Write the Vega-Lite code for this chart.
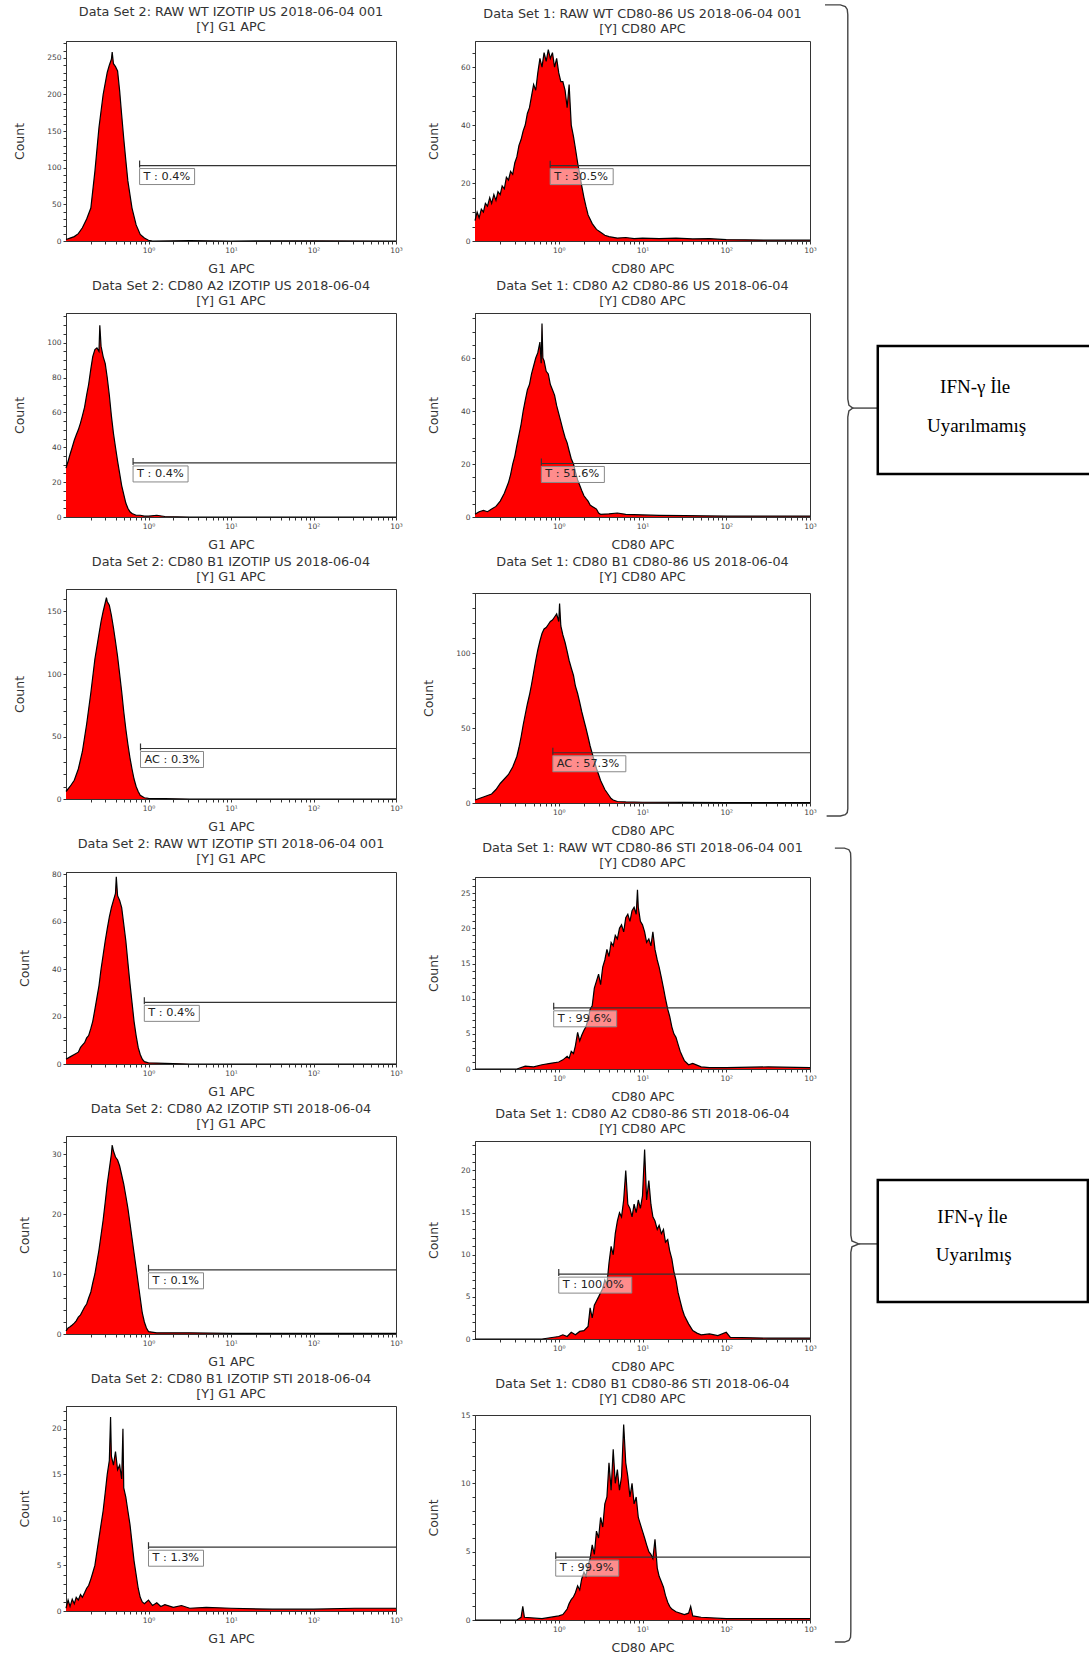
{
"$schema": "https://vega.github.io/schema/vega-lite/v6.json",
"padding": {"left": 13, "top": 2, "right": 0, "bottom": 0},
"background": "white",
"config": {
  "view": {"stroke": "#333", "strokeWidth": 1},
  "title": {"font": "DejaVu Sans", "fontSize": 12.8, "fontWeight": "normal", "color": "#333", "lineHeight": 15, "offset": 5, "anchor": "middle"},
  "axis": {"labelFont": "DejaVu Sans", "labelFontSize": 7.5, "labelColor": "#444", "titleFont": "DejaVu Sans", "titleFontSize": 12.5, "titleFontWeight": "normal", "titleColor": "#333", "tickColor": "#333", "domainColor": "#333", "grid": false, "tickSize": 3, "labelOverlap": false, "labelFlush": false, "labelPadding": 2},
  "axisX": {"titlePadding": 9},
  "axisY": {"titlePadding": 20}
},
"datasets": {
"h": [
{"p":"P1","x":0.1,"y":2},{"p":"P1","x":0.112,"y":4},{"p":"P1","x":0.126,"y":6},{"p":"P1","x":0.141,"y":10},{"p":"P1","x":0.158,"y":18},{"p":"P1","x":0.178,"y":30},{"p":"P1","x":0.2,"y":45},{"p":"P1","x":0.224,"y":95},{"p":"P1","x":0.251,"y":155},{"p":"P1","x":0.282,"y":200},{"p":"P1","x":0.316,"y":230},{"p":"P1","x":0.335,"y":240},{"p":"P1","x":0.355,"y":248},{"p":"P1","x":0.363,"y":258},{"p":"P1","x":0.376,"y":242},{"p":"P1","x":0.398,"y":238},{"p":"P1","x":0.422,"y":232},{"p":"P1","x":0.447,"y":205},{"p":"P1","x":0.473,"y":172},{"p":"P1","x":0.501,"y":140},{"p":"P1","x":0.531,"y":110},{"p":"P1","x":0.562,"y":82},{"p":"P1","x":0.631,"y":45},{"p":"P1","x":0.708,"y":22},{"p":"P1","x":0.794,"y":9},{"p":"P1","x":0.891,"y":4},{"p":"P1","x":1,"y":1},{"p":"P1","x":1.12,"y":0},{"p":"P1","x":3.16,"y":0.5},{"p":"P1","x":10,"y":0},{"p":"P1","x":100,"y":0.3},{"p":"P1","x":1000,"y":0},
{"p":"P2","x":0.1,"y":7},{"p":"P2","x":0.106,"y":10},{"p":"P2","x":0.112,"y":8},{"p":"P2","x":0.119,"y":11},{"p":"P2","x":0.126,"y":10},{"p":"P2","x":0.133,"y":13},{"p":"P2","x":0.141,"y":12},{"p":"P2","x":0.15,"y":15},{"p":"P2","x":0.158,"y":13},{"p":"P2","x":0.168,"y":16},{"p":"P2","x":0.178,"y":14},{"p":"P2","x":0.188,"y":17},{"p":"P2","x":0.2,"y":16},{"p":"P2","x":0.211,"y":19},{"p":"P2","x":0.224,"y":18},{"p":"P2","x":0.237,"y":22},{"p":"P2","x":0.251,"y":21},{"p":"P2","x":0.266,"y":24},{"p":"P2","x":0.282,"y":23},{"p":"P2","x":0.299,"y":27},{"p":"P2","x":0.316,"y":29},{"p":"P2","x":0.335,"y":33},{"p":"P2","x":0.355,"y":35},{"p":"P2","x":0.376,"y":38},{"p":"P2","x":0.398,"y":40},{"p":"P2","x":0.422,"y":44},{"p":"P2","x":0.447,"y":46},{"p":"P2","x":0.473,"y":50},{"p":"P2","x":0.501,"y":54},{"p":"P2","x":0.531,"y":52},{"p":"P2","x":0.562,"y":58},{"p":"P2","x":0.596,"y":63},{"p":"P2","x":0.631,"y":60},{"p":"P2","x":0.668,"y":65},{"p":"P2","x":0.708,"y":62},{"p":"P2","x":0.75,"y":66},{"p":"P2","x":0.794,"y":63},{"p":"P2","x":0.841,"y":65},{"p":"P2","x":0.891,"y":60},{"p":"P2","x":0.944,"y":63},{"p":"P2","x":1,"y":58},{"p":"P2","x":1.059,"y":55},{"p":"P2","x":1.12,"y":55},{"p":"P2","x":1.19,"y":52},{"p":"P2","x":1.26,"y":46},{"p":"P2","x":1.33,"y":54},{"p":"P2","x":1.41,"y":40},{"p":"P2","x":1.5,"y":36},{"p":"P2","x":1.58,"y":32},{"p":"P2","x":1.68,"y":27},{"p":"P2","x":1.78,"y":23},{"p":"P2","x":1.88,"y":19},{"p":"P2","x":2.0,"y":15},{"p":"P2","x":2.11,"y":12},{"p":"P2","x":2.24,"y":9},{"p":"P2","x":2.51,"y":6},{"p":"P2","x":2.82,"y":4},{"p":"P2","x":3.16,"y":3},{"p":"P2","x":3.55,"y":2},{"p":"P2","x":3.98,"y":1.5},{"p":"P2","x":5.01,"y":1},{"p":"P2","x":6.31,"y":1.2},{"p":"P2","x":7.94,"y":0.8},{"p":"P2","x":10,"y":1},{"p":"P2","x":15.8,"y":0.8},{"p":"P2","x":25.1,"y":1},{"p":"P2","x":39.8,"y":0.7},{"p":"P2","x":63.1,"y":0.8},{"p":"P2","x":100,"y":0.5},{"p":"P2","x":316,"y":0.3},{"p":"P2","x":1000,"y":0.3},
{"p":"P3","x":0.1,"y":28},{"p":"P3","x":0.106,"y":32},{"p":"P3","x":0.112,"y":36},{"p":"P3","x":0.119,"y":40},{"p":"P3","x":0.126,"y":44},{"p":"P3","x":0.133,"y":47},{"p":"P3","x":0.141,"y":50},{"p":"P3","x":0.15,"y":54},{"p":"P3","x":0.158,"y":58},{"p":"P3","x":0.168,"y":63},{"p":"P3","x":0.178,"y":70},{"p":"P3","x":0.188,"y":76},{"p":"P3","x":0.2,"y":85},{"p":"P3","x":0.211,"y":92},{"p":"P3","x":0.224,"y":96},{"p":"P3","x":0.237,"y":97},{"p":"P3","x":0.251,"y":95},{"p":"P3","x":0.257,"y":110},{"p":"P3","x":0.266,"y":98},{"p":"P3","x":0.282,"y":92},{"p":"P3","x":0.299,"y":88},{"p":"P3","x":0.316,"y":80},{"p":"P3","x":0.335,"y":70},{"p":"P3","x":0.355,"y":58},{"p":"P3","x":0.376,"y":48},{"p":"P3","x":0.398,"y":40},{"p":"P3","x":0.422,"y":32},{"p":"P3","x":0.447,"y":25},{"p":"P3","x":0.473,"y":18},{"p":"P3","x":0.501,"y":13},{"p":"P3","x":0.531,"y":8},{"p":"P3","x":0.562,"y":5},{"p":"P3","x":0.596,"y":3},{"p":"P3","x":0.631,"y":2},{"p":"P3","x":0.708,"y":1},{"p":"P3","x":0.794,"y":1},{"p":"P3","x":0.891,"y":0.5},{"p":"P3","x":1,"y":0.5},{"p":"P3","x":1.26,"y":1},{"p":"P3","x":1.58,"y":0.3},{"p":"P3","x":3.16,"y":0},{"p":"P3","x":1000,"y":0},
{"p":"P4","x":0.1,"y":1},{"p":"P4","x":0.112,"y":2},{"p":"P4","x":0.126,"y":2.5},{"p":"P4","x":0.141,"y":2},{"p":"P4","x":0.158,"y":3},{"p":"P4","x":0.178,"y":4},{"p":"P4","x":0.2,"y":6},{"p":"P4","x":0.224,"y":9},{"p":"P4","x":0.251,"y":13},{"p":"P4","x":0.266,"y":16},{"p":"P4","x":0.282,"y":20},{"p":"P4","x":0.299,"y":23},{"p":"P4","x":0.316,"y":27},{"p":"P4","x":0.335,"y":31},{"p":"P4","x":0.355,"y":35},{"p":"P4","x":0.376,"y":40},{"p":"P4","x":0.398,"y":44},{"p":"P4","x":0.422,"y":48},{"p":"P4","x":0.447,"y":50},{"p":"P4","x":0.473,"y":54},{"p":"P4","x":0.501,"y":57},{"p":"P4","x":0.531,"y":60},{"p":"P4","x":0.562,"y":62},{"p":"P4","x":0.596,"y":66},{"p":"P4","x":0.617,"y":58},{"p":"P4","x":0.631,"y":73},{"p":"P4","x":0.646,"y":60},{"p":"P4","x":0.668,"y":59},{"p":"P4","x":0.708,"y":55},{"p":"P4","x":0.75,"y":54},{"p":"P4","x":0.794,"y":50},{"p":"P4","x":0.841,"y":48},{"p":"P4","x":0.891,"y":46},{"p":"P4","x":0.944,"y":42},{"p":"P4","x":1,"y":39},{"p":"P4","x":1.059,"y":36},{"p":"P4","x":1.12,"y":33},{"p":"P4","x":1.19,"y":30},{"p":"P4","x":1.26,"y":28},{"p":"P4","x":1.33,"y":25},{"p":"P4","x":1.41,"y":22},{"p":"P4","x":1.5,"y":20},{"p":"P4","x":1.58,"y":17},{"p":"P4","x":1.68,"y":14},{"p":"P4","x":1.78,"y":12},{"p":"P4","x":1.88,"y":10},{"p":"P4","x":2.0,"y":8},{"p":"P4","x":2.11,"y":7},{"p":"P4","x":2.24,"y":6},{"p":"P4","x":2.37,"y":4.5},{"p":"P4","x":2.51,"y":4},{"p":"P4","x":2.66,"y":3.5},{"p":"P4","x":2.82,"y":3},{"p":"P4","x":2.99,"y":1.5},{"p":"P4","x":3.16,"y":1},{"p":"P4","x":3.98,"y":1.2},{"p":"P4","x":5.01,"y":1.5},{"p":"P4","x":6.31,"y":1},{"p":"P4","x":10,"y":0.8},{"p":"P4","x":15.8,"y":0.6},{"p":"P4","x":31.6,"y":0.5},{"p":"P4","x":100,"y":0.3},{"p":"P4","x":1000,"y":0.3},
{"p":"P5","x":0.1,"y":6},{"p":"P5","x":0.112,"y":10},{"p":"P5","x":0.126,"y":15},{"p":"P5","x":0.141,"y":24},{"p":"P5","x":0.158,"y":38},{"p":"P5","x":0.178,"y":60},{"p":"P5","x":0.2,"y":85},{"p":"P5","x":0.224,"y":112},{"p":"P5","x":0.251,"y":132},{"p":"P5","x":0.266,"y":142},{"p":"P5","x":0.282,"y":150},{"p":"P5","x":0.299,"y":157},{"p":"P5","x":0.309,"y":161},{"p":"P5","x":0.316,"y":158},{"p":"P5","x":0.335,"y":155},{"p":"P5","x":0.355,"y":147},{"p":"P5","x":0.376,"y":137},{"p":"P5","x":0.398,"y":126},{"p":"P5","x":0.422,"y":114},{"p":"P5","x":0.447,"y":100},{"p":"P5","x":0.473,"y":86},{"p":"P5","x":0.501,"y":70},{"p":"P5","x":0.531,"y":56},{"p":"P5","x":0.562,"y":44},{"p":"P5","x":0.596,"y":33},{"p":"P5","x":0.631,"y":24},{"p":"P5","x":0.668,"y":16},{"p":"P5","x":0.708,"y":10},{"p":"P5","x":0.75,"y":6},{"p":"P5","x":0.794,"y":3},{"p":"P5","x":0.891,"y":1},{"p":"P5","x":1,"y":0.5},{"p":"P5","x":1.58,"y":0.3},{"p":"P5","x":3.16,"y":0},{"p":"P5","x":1000,"y":0},
{"p":"P6","x":0.1,"y":2},{"p":"P6","x":0.112,"y":3},{"p":"P6","x":0.126,"y":4},{"p":"P6","x":0.141,"y":5},{"p":"P6","x":0.158,"y":6},{"p":"P6","x":0.178,"y":9},{"p":"P6","x":0.2,"y":13},{"p":"P6","x":0.224,"y":16},{"p":"P6","x":0.251,"y":19},{"p":"P6","x":0.282,"y":24},{"p":"P6","x":0.316,"y":31},{"p":"P6","x":0.335,"y":37},{"p":"P6","x":0.355,"y":44},{"p":"P6","x":0.376,"y":52},{"p":"P6","x":0.398,"y":59},{"p":"P6","x":0.422,"y":66},{"p":"P6","x":0.447,"y":72},{"p":"P6","x":0.473,"y":79},{"p":"P6","x":0.501,"y":87},{"p":"P6","x":0.531,"y":95},{"p":"P6","x":0.562,"y":102},{"p":"P6","x":0.596,"y":108},{"p":"P6","x":0.631,"y":113},{"p":"P6","x":0.668,"y":116},{"p":"P6","x":0.708,"y":117},{"p":"P6","x":0.75,"y":119},{"p":"P6","x":0.794,"y":121},{"p":"P6","x":0.841,"y":122},{"p":"P6","x":0.891,"y":124},{"p":"P6","x":0.944,"y":126},{"p":"P6","x":1,"y":121},{"p":"P6","x":1.023,"y":133},{"p":"P6","x":1.059,"y":118},{"p":"P6","x":1.12,"y":112},{"p":"P6","x":1.19,"y":107},{"p":"P6","x":1.26,"y":101},{"p":"P6","x":1.33,"y":95},{"p":"P6","x":1.41,"y":90},{"p":"P6","x":1.5,"y":85},{"p":"P6","x":1.58,"y":78},{"p":"P6","x":1.68,"y":73},{"p":"P6","x":1.78,"y":67},{"p":"P6","x":1.88,"y":61},{"p":"P6","x":2.0,"y":55},{"p":"P6","x":2.11,"y":50},{"p":"P6","x":2.24,"y":44},{"p":"P6","x":2.37,"y":38},{"p":"P6","x":2.51,"y":33},{"p":"P6","x":2.66,"y":28},{"p":"P6","x":2.82,"y":23},{"p":"P6","x":2.99,"y":19},{"p":"P6","x":3.16,"y":15},{"p":"P6","x":3.35,"y":12},{"p":"P6","x":3.55,"y":9},{"p":"P6","x":3.76,"y":7},{"p":"P6","x":3.98,"y":5},{"p":"P6","x":4.22,"y":3},{"p":"P6","x":4.47,"y":2},{"p":"P6","x":5.01,"y":1},{"p":"P6","x":6.31,"y":0.7},{"p":"P6","x":10,"y":0.5},{"p":"P6","x":31.6,"y":0.4},{"p":"P6","x":100,"y":0.3},{"p":"P6","x":1000,"y":0.3},
{"p":"P7","x":0.1,"y":2},{"p":"P7","x":0.112,"y":3},{"p":"P7","x":0.126,"y":4},{"p":"P7","x":0.141,"y":5},{"p":"P7","x":0.15,"y":7},{"p":"P7","x":0.158,"y":8},{"p":"P7","x":0.168,"y":9},{"p":"P7","x":0.178,"y":11},{"p":"P7","x":0.188,"y":12},{"p":"P7","x":0.2,"y":15},{"p":"P7","x":0.211,"y":18},{"p":"P7","x":0.224,"y":23},{"p":"P7","x":0.237,"y":28},{"p":"P7","x":0.251,"y":33},{"p":"P7","x":0.266,"y":40},{"p":"P7","x":0.282,"y":46},{"p":"P7","x":0.299,"y":52},{"p":"P7","x":0.316,"y":57},{"p":"P7","x":0.335,"y":62},{"p":"P7","x":0.355,"y":66},{"p":"P7","x":0.376,"y":69},{"p":"P7","x":0.398,"y":72},{"p":"P7","x":0.407,"y":79},{"p":"P7","x":0.422,"y":71},{"p":"P7","x":0.447,"y":69},{"p":"P7","x":0.473,"y":66},{"p":"P7","x":0.501,"y":59},{"p":"P7","x":0.531,"y":52},{"p":"P7","x":0.562,"y":43},{"p":"P7","x":0.596,"y":34},{"p":"P7","x":0.631,"y":26},{"p":"P7","x":0.668,"y":18},{"p":"P7","x":0.708,"y":12},{"p":"P7","x":0.75,"y":7},{"p":"P7","x":0.794,"y":4},{"p":"P7","x":0.841,"y":2},{"p":"P7","x":0.891,"y":1},{"p":"P7","x":1,"y":0.5},{"p":"P7","x":1.58,"y":0.3},{"p":"P7","x":3.16,"y":0},{"p":"P7","x":1000,"y":0},
{"p":"P8","x":0.1,"y":0},{"p":"P8","x":0.316,"y":0},{"p":"P8","x":0.398,"y":0.4},{"p":"P8","x":0.501,"y":0.3},{"p":"P8","x":0.631,"y":0.6},{"p":"P8","x":0.794,"y":0.8},{"p":"P8","x":1,"y":1},{"p":"P8","x":1.12,"y":1.3},{"p":"P8","x":1.26,"y":1.8},{"p":"P8","x":1.33,"y":1.5},{"p":"P8","x":1.41,"y":2.5},{"p":"P8","x":1.5,"y":2.2},{"p":"P8","x":1.58,"y":3.3},{"p":"P8","x":1.68,"y":5.2},{"p":"P8","x":1.78,"y":4},{"p":"P8","x":1.88,"y":4.8},{"p":"P8","x":2.0,"y":5.5},{"p":"P8","x":2.11,"y":6},{"p":"P8","x":2.24,"y":7},{"p":"P8","x":2.37,"y":8.5},{"p":"P8","x":2.51,"y":9},{"p":"P8","x":2.66,"y":11.5},{"p":"P8","x":2.82,"y":12.5},{"p":"P8","x":2.99,"y":13.5},{"p":"P8","x":3.16,"y":12},{"p":"P8","x":3.35,"y":14.5},{"p":"P8","x":3.55,"y":15.5},{"p":"P8","x":3.76,"y":17},{"p":"P8","x":3.98,"y":16},{"p":"P8","x":4.22,"y":18},{"p":"P8","x":4.47,"y":17.5},{"p":"P8","x":4.73,"y":19},{"p":"P8","x":5.01,"y":18.5},{"p":"P8","x":5.31,"y":20},{"p":"P8","x":5.62,"y":20.5},{"p":"P8","x":5.96,"y":19.5},{"p":"P8","x":6.31,"y":21.5},{"p":"P8","x":6.68,"y":22},{"p":"P8","x":7.08,"y":21},{"p":"P8","x":7.5,"y":22.5},{"p":"P8","x":7.94,"y":23},{"p":"P8","x":8.41,"y":22},{"p":"P8","x":8.71,"y":25.5},{"p":"P8","x":8.91,"y":23},{"p":"P8","x":9.44,"y":21},{"p":"P8","x":10,"y":20.5},{"p":"P8","x":10.6,"y":19.5},{"p":"P8","x":11.2,"y":18},{"p":"P8","x":11.9,"y":18.5},{"p":"P8","x":12.6,"y":17.5},{"p":"P8","x":13.3,"y":19.5},{"p":"P8","x":14.1,"y":17},{"p":"P8","x":15.0,"y":15.5},{"p":"P8","x":15.8,"y":14.5},{"p":"P8","x":16.8,"y":13},{"p":"P8","x":17.8,"y":11.5},{"p":"P8","x":18.8,"y":10},{"p":"P8","x":20,"y":8.5},{"p":"P8","x":21.1,"y":7.5},{"p":"P8","x":22.4,"y":6},{"p":"P8","x":23.7,"y":5},{"p":"P8","x":25.1,"y":4.5},{"p":"P8","x":26.6,"y":3.5},{"p":"P8","x":28.2,"y":2.5},{"p":"P8","x":29.9,"y":1.8},{"p":"P8","x":31.6,"y":1.2},{"p":"P8","x":35.5,"y":0.6},{"p":"P8","x":39.8,"y":0.8},{"p":"P8","x":50.1,"y":0.3},{"p":"P8","x":63.1,"y":0.2},{"p":"P8","x":100,"y":0.2},{"p":"P8","x":316,"y":0.3},{"p":"P8","x":1000,"y":0.2},
{"p":"P9","x":0.1,"y":0.5},{"p":"P9","x":0.106,"y":1},{"p":"P9","x":0.112,"y":1.2},{"p":"P9","x":0.119,"y":1.5},{"p":"P9","x":0.126,"y":1.8},{"p":"P9","x":0.133,"y":2.2},{"p":"P9","x":0.141,"y":2.8},{"p":"P9","x":0.15,"y":3.2},{"p":"P9","x":0.158,"y":3.8},{"p":"P9","x":0.168,"y":4.5},{"p":"P9","x":0.178,"y":5},{"p":"P9","x":0.188,"y":6},{"p":"P9","x":0.2,"y":7},{"p":"P9","x":0.211,"y":8.5},{"p":"P9","x":0.224,"y":10},{"p":"P9","x":0.237,"y":12},{"p":"P9","x":0.251,"y":14},{"p":"P9","x":0.266,"y":16.5},{"p":"P9","x":0.282,"y":19},{"p":"P9","x":0.299,"y":22},{"p":"P9","x":0.316,"y":25},{"p":"P9","x":0.335,"y":27.5},{"p":"P9","x":0.355,"y":30},{"p":"P9","x":0.363,"y":31.5},{"p":"P9","x":0.376,"y":30.5},{"p":"P9","x":0.398,"y":29.5},{"p":"P9","x":0.422,"y":29},{"p":"P9","x":0.447,"y":28},{"p":"P9","x":0.473,"y":26.5},{"p":"P9","x":0.501,"y":25},{"p":"P9","x":0.531,"y":23},{"p":"P9","x":0.562,"y":21},{"p":"P9","x":0.596,"y":18.5},{"p":"P9","x":0.631,"y":16},{"p":"P9","x":0.668,"y":13.5},{"p":"P9","x":0.708,"y":11},{"p":"P9","x":0.75,"y":8.5},{"p":"P9","x":0.794,"y":6},{"p":"P9","x":0.841,"y":3.5},{"p":"P9","x":0.891,"y":2},{"p":"P9","x":0.944,"y":1},{"p":"P9","x":1,"y":0.4},{"p":"P9","x":1.26,"y":0.2},{"p":"P9","x":3.16,"y":0.2},{"p":"P9","x":10,"y":0.1},{"p":"P9","x":1000,"y":0.1},
{"p":"P10","x":0.1,"y":0},{"p":"P10","x":0.631,"y":0},{"p":"P10","x":1,"y":0.3},{"p":"P10","x":1.12,"y":0.5},{"p":"P10","x":1.26,"y":0.3},{"p":"P10","x":1.41,"y":0.8},{"p":"P10","x":1.58,"y":0.5},{"p":"P10","x":1.78,"y":0.9},{"p":"P10","x":2.0,"y":1},{"p":"P10","x":2.24,"y":1.5},{"p":"P10","x":2.37,"y":3.7},{"p":"P10","x":2.51,"y":2.5},{"p":"P10","x":2.66,"y":4},{"p":"P10","x":2.82,"y":4.5},{"p":"P10","x":2.99,"y":5},{"p":"P10","x":3.16,"y":5.5},{"p":"P10","x":3.35,"y":6},{"p":"P10","x":3.55,"y":7},{"p":"P10","x":3.76,"y":6.5},{"p":"P10","x":3.98,"y":9},{"p":"P10","x":4.22,"y":11},{"p":"P10","x":4.47,"y":10},{"p":"P10","x":4.73,"y":12.5},{"p":"P10","x":5.01,"y":14},{"p":"P10","x":5.31,"y":15},{"p":"P10","x":5.62,"y":14.5},{"p":"P10","x":5.96,"y":16.5},{"p":"P10","x":6.31,"y":20},{"p":"P10","x":6.68,"y":16},{"p":"P10","x":7.08,"y":15.5},{"p":"P10","x":7.5,"y":14.5},{"p":"P10","x":7.94,"y":16},{"p":"P10","x":8.41,"y":15},{"p":"P10","x":8.91,"y":16.5},{"p":"P10","x":9.44,"y":15.5},{"p":"P10","x":10,"y":17},{"p":"P10","x":10.6,"y":22.5},{"p":"P10","x":11.2,"y":16.5},{"p":"P10","x":11.9,"y":18.8},{"p":"P10","x":12.6,"y":16},{"p":"P10","x":13.3,"y":14.5},{"p":"P10","x":14.1,"y":14},{"p":"P10","x":15.0,"y":13},{"p":"P10","x":15.8,"y":13.5},{"p":"P10","x":16.8,"y":12.5},{"p":"P10","x":17.8,"y":13},{"p":"P10","x":18.8,"y":11.5},{"p":"P10","x":20,"y":11.8},{"p":"P10","x":21.1,"y":10.5},{"p":"P10","x":22.4,"y":9.5},{"p":"P10","x":23.7,"y":8},{"p":"P10","x":25.1,"y":7},{"p":"P10","x":26.6,"y":5.5},{"p":"P10","x":28.2,"y":4.5},{"p":"P10","x":29.9,"y":3.5},{"p":"P10","x":31.6,"y":2.8},{"p":"P10","x":35.5,"y":1.8},{"p":"P10","x":39.8,"y":1},{"p":"P10","x":44.7,"y":0.7},{"p":"P10","x":50.1,"y":0.5},{"p":"P10","x":63.1,"y":0.6},{"p":"P10","x":79.4,"y":0.4},{"p":"P10","x":100,"y":0.8},{"p":"P10","x":112,"y":0.2},{"p":"P10","x":316,"y":0.1},{"p":"P10","x":1000,"y":0.1},
{"p":"P11","x":0.1,"y":0.3},{"p":"P11","x":0.106,"y":1.2},{"p":"P11","x":0.112,"y":0.5},{"p":"P11","x":0.119,"y":1.3},{"p":"P11","x":0.126,"y":0.8},{"p":"P11","x":0.133,"y":1.5},{"p":"P11","x":0.141,"y":1.2},{"p":"P11","x":0.15,"y":1.8},{"p":"P11","x":0.158,"y":1.5},{"p":"P11","x":0.168,"y":2},{"p":"P11","x":0.178,"y":2.5},{"p":"P11","x":0.188,"y":2.8},{"p":"P11","x":0.2,"y":3.5},{"p":"P11","x":0.211,"y":4.2},{"p":"P11","x":0.224,"y":5},{"p":"P11","x":0.237,"y":6.5},{"p":"P11","x":0.251,"y":8},{"p":"P11","x":0.266,"y":9.5},{"p":"P11","x":0.282,"y":11},{"p":"P11","x":0.299,"y":13},{"p":"P11","x":0.316,"y":15},{"p":"P11","x":0.335,"y":16.5},{"p":"P11","x":0.347,"y":21.3},{"p":"P11","x":0.355,"y":17},{"p":"P11","x":0.376,"y":16},{"p":"P11","x":0.398,"y":17.5},{"p":"P11","x":0.422,"y":15.5},{"p":"P11","x":0.447,"y":16},{"p":"P11","x":0.473,"y":14.5},{"p":"P11","x":0.49,"y":20},{"p":"P11","x":0.501,"y":13.5},{"p":"P11","x":0.531,"y":12.5},{"p":"P11","x":0.562,"y":11},{"p":"P11","x":0.596,"y":9.5},{"p":"P11","x":0.631,"y":7.5},{"p":"P11","x":0.668,"y":5.5},{"p":"P11","x":0.708,"y":4},{"p":"P11","x":0.75,"y":2.5},{"p":"P11","x":0.794,"y":1.5},{"p":"P11","x":0.841,"y":1},{"p":"P11","x":0.891,"y":0.8},{"p":"P11","x":1,"y":1.2},{"p":"P11","x":1.12,"y":0.6},{"p":"P11","x":1.26,"y":0.9},{"p":"P11","x":1.41,"y":0.5},{"p":"P11","x":1.58,"y":0.7},{"p":"P11","x":2.0,"y":0.4},{"p":"P11","x":2.51,"y":0.6},{"p":"P11","x":3.16,"y":0.3},{"p":"P11","x":5.01,"y":0.4},{"p":"P11","x":10,"y":0.3},{"p":"P11","x":31.6,"y":0.2},{"p":"P11","x":100,"y":0.2},{"p":"P11","x":316,"y":0.3},{"p":"P11","x":1000,"y":0.3},
{"p":"P12","x":0.1,"y":0},{"p":"P12","x":0.316,"y":0},{"p":"P12","x":0.355,"y":0.2},{"p":"P12","x":0.372,"y":1},{"p":"P12","x":0.389,"y":0.2},{"p":"P12","x":0.631,"y":0.1},{"p":"P12","x":1,"y":0.3},{"p":"P12","x":1.12,"y":0.4},{"p":"P12","x":1.26,"y":0.8},{"p":"P12","x":1.33,"y":1.2},{"p":"P12","x":1.41,"y":1.5},{"p":"P12","x":1.5,"y":1.7},{"p":"P12","x":1.58,"y":2},{"p":"P12","x":1.68,"y":2.5},{"p":"P12","x":1.78,"y":2.2},{"p":"P12","x":1.88,"y":3},{"p":"P12","x":2.0,"y":3.5},{"p":"P12","x":2.11,"y":3.2},{"p":"P12","x":2.24,"y":4},{"p":"P12","x":2.37,"y":4.5},{"p":"P12","x":2.51,"y":5.5},{"p":"P12","x":2.66,"y":4.8},{"p":"P12","x":2.82,"y":6.5},{"p":"P12","x":2.99,"y":6},{"p":"P12","x":3.16,"y":7.5},{"p":"P12","x":3.35,"y":6.8},{"p":"P12","x":3.55,"y":8.5},{"p":"P12","x":3.76,"y":9},{"p":"P12","x":3.98,"y":11.5},{"p":"P12","x":4.22,"y":9.5},{"p":"P12","x":4.47,"y":12.5},{"p":"P12","x":4.73,"y":10},{"p":"P12","x":5.01,"y":11},{"p":"P12","x":5.31,"y":9.5},{"p":"P12","x":5.62,"y":10.5},{"p":"P12","x":5.96,"y":14.3},{"p":"P12","x":6.31,"y":11.5},{"p":"P12","x":6.68,"y":10.5},{"p":"P12","x":7.08,"y":9},{"p":"P12","x":7.5,"y":10},{"p":"P12","x":7.94,"y":8.5},{"p":"P12","x":8.41,"y":9},{"p":"P12","x":8.91,"y":7.5},{"p":"P12","x":9.44,"y":7},{"p":"P12","x":10,"y":6.5},{"p":"P12","x":10.6,"y":6},{"p":"P12","x":11.2,"y":5.5},{"p":"P12","x":11.9,"y":5},{"p":"P12","x":12.6,"y":4.8},{"p":"P12","x":13.3,"y":4.5},{"p":"P12","x":14.1,"y":5.9},{"p":"P12","x":15.0,"y":3.8},{"p":"P12","x":15.8,"y":3.2},{"p":"P12","x":16.8,"y":2.8},{"p":"P12","x":17.8,"y":2.4},{"p":"P12","x":18.8,"y":1.8},{"p":"P12","x":20,"y":1.3},{"p":"P12","x":21.1,"y":1},{"p":"P12","x":22.4,"y":0.8},{"p":"P12","x":25.1,"y":0.6},{"p":"P12","x":31.6,"y":0.4},{"p":"P12","x":35.5,"y":0.5},{"p":"P12","x":37.6,"y":1},{"p":"P12","x":39.8,"y":0.3},{"p":"P12","x":50.1,"y":0.2},{"p":"P12","x":100,"y":0.1},{"p":"P12","x":1000,"y":0.1}
],
"g": [
{"p":"P1","x":0.78,"y":103,"lab":"T : 0.4%"},
{"p":"P2","x":0.79,"y":26,"lab":"T : 30.5%"},
{"p":"P3","x":0.65,"y":31,"lab":"T : 0.4%"},
{"p":"P4","x":0.62,"y":20.2,"lab":"T : 51.6%"},
{"p":"P5","x":0.8,"y":40.4,"lab":"AC : 0.3%"},
{"p":"P6","x":0.85,"y":33.5,"lab":"AC : 57.3%"},
{"p":"P7","x":0.89,"y":26,"lab":"T : 0.4%"},
{"p":"P8","x":0.87,"y":8.7,"lab":"T : 99.6%"},
{"p":"P9","x":1.0,"y":10.7,"lab":"T : 0.1%"},
{"p":"P10","x":1.0,"y":7.7,"lab":"T : 100.0%"},
{"p":"P11","x":1.0,"y":7.0,"lab":"T : 1.3%"},
{"p":"P12","x":0.92,"y":4.6,"lab":"T : 99.9%"}
],
"br": [
{"s":"a","o":1,"x":0.029,"y":-0.137},{"s":"a","o":2,"x":0.085,"y":-0.137},{"s":"a","o":3,"x":0.103,"y":-0.131},{"s":"a","o":4,"x":0.11,"y":-0.12},{"s":"a","o":5,"x":0.112,"y":-0.1},{"s":"a","o":6,"x":0.112,"y":1.36},{"s":"a","o":7,"x":0.116,"y":1.383},{"s":"a","o":8,"x":0.13,"y":1.394},{"s":"a","o":9,"x":0.116,"y":1.405},{"s":"a","o":10,"x":0.112,"y":1.428},{"s":"a","o":11,"x":0.112,"y":2.915},{"s":"a","o":12,"x":0.11,"y":2.93},{"s":"a","o":13,"x":0.103,"y":2.938},{"s":"a","o":14,"x":0.085,"y":2.943},{"s":"a","o":15,"x":0.035,"y":2.943},
{"s":"b","o":1,"x":0.13,"y":1.394},{"s":"b","o":2,"x":0.221,"y":1.394},
{"s":"c","o":1,"x":0.065,"y":3.065},{"s":"c","o":2,"x":0.1,"y":3.065},{"s":"c","o":3,"x":0.116,"y":3.071},{"s":"c","o":4,"x":0.122,"y":3.083},{"s":"c","o":5,"x":0.123,"y":3.105},{"s":"c","o":6,"x":0.123,"y":4.535},{"s":"c","o":7,"x":0.127,"y":4.557},{"s":"c","o":8,"x":0.152,"y":4.568},{"s":"c","o":9,"x":0.127,"y":4.579},{"s":"c","o":10,"x":0.123,"y":4.6},{"s":"c","o":11,"x":0.123,"y":6.04},{"s":"c","o":12,"x":0.122,"y":6.062},{"s":"c","o":13,"x":0.116,"y":6.074},{"s":"c","o":14,"x":0.1,"y":6.08},{"s":"c","o":15,"x":0.065,"y":6.08},
{"s":"d","o":1,"x":0.152,"y":4.568},{"s":"d","o":2,"x":0.221,"y":4.568}
],
"bx": [
{"x":0.221,"x2":1.0,"y":1.158,"y2":1.644},
{"x":0.221,"x2":0.985,"y":4.325,"y2":4.789}
],
"tx": [
{"x":0.575,"y":1.314,"t":"IFN-γ İle"},
{"x":0.58,"y":1.462,"t":"Uyarılmamış"},
{"x":0.565,"y":4.466,"t":"IFN-γ İle"},
{"x":0.57,"y":4.61,"t":"Uyarılmış"}
]
},
"hconcat": [
{"hconcat": [
{"vconcat": [
{"width":330,"height":200,"title":{"text":["Data Set 2: RAW WT IZOTIP US 2018-06-04 001","[Y] G1 APC"]},
 "encoding":{"x":{"field":"x","type":"quantitative","title":"G1 APC","scale":{"type":"log","domain":[0.1,1000]},"axis":{"values":[0.2,0.3,0.4,0.5,0.6,0.7,0.8,0.9,1,2,3,4,5,6,7,8,9,10,20,30,40,50,60,70,80,90,100,200,300,400,500,600,700,800,900,1000],"labelExpr":"datum.value==1?'10⁰':datum.value==10?'10¹':datum.value==100?'10²':datum.value==1000?'10³':''"}},
  "y":{"field":"y","type":"quantitative","stack":null,"title":"Count","scale":{"domain":[0,273],"nice":false},"axis":{"values":[0,10,20,30,40,50,60,70,80,90,100,110,120,130,140,150,160,170,180,190,200,210,220,230,240,250,260,270],"labelExpr":"datum.value%50==0?datum.label:''"}}},
 "layer":[
  {"data":{"name":"h"},"transform":[{"filter":"datum.p=='P1'"}],"layer":[{"mark":{"type":"area","color":"#ff0000"}},{"mark":{"type":"line","color":"#000000","strokeWidth":1.2}}]},
  {"data":{"name":"g"},"transform":[{"filter":"datum.p=='P1'"}],"layer":[
   {"mark":{"type":"rule","color":"#333333","strokeWidth":1.2},"encoding":{"x2":{"datum":1000}}},
   {"mark":{"type":"point","shape":"M0,-5V2","size":4,"filled":false,"stroke":"#333333","strokeWidth":1.2,"opacity":1}},
   {"mark":{"type":"point","size":4,"filled":true,"fill":"#ffffff","fillOpacity":0.55,"stroke":"#888888","strokeWidth":1,"opacity":1},"encoding":{"shape":{"condition":[{"test":"length(datum.lab)>=10","value":"M0,3H73V19H0Z"},{"test":"length(datum.lab)==9","value":"M0,3H63V19H0Z"}],"value":"M0,3H55V19H0Z"}}},
   {"mark":{"type":"text","align":"left","baseline":"middle","dx":4,"dy":11,"fontSize":11.3,"font":"DejaVu Sans","color":"#222222"},"encoding":{"text":{"field":"lab"}}}]}
 ]},
{"width":330,"height":204,"title":{"text":["Data Set 2: CD80 A2 IZOTIP US 2018-06-04","[Y] G1 APC"]},
 "encoding":{"x":{"field":"x","type":"quantitative","title":"G1 APC","scale":{"type":"log","domain":[0.1,1000]},"axis":{"values":[0.2,0.3,0.4,0.5,0.6,0.7,0.8,0.9,1,2,3,4,5,6,7,8,9,10,20,30,40,50,60,70,80,90,100,200,300,400,500,600,700,800,900,1000],"labelExpr":"datum.value==1?'10⁰':datum.value==10?'10¹':datum.value==100?'10²':datum.value==1000?'10³':''"}},
  "y":{"field":"y","type":"quantitative","stack":null,"title":"Count","scale":{"domain":[0,117],"nice":false},"axis":{"values":[0,5,10,15,20,25,30,35,40,45,50,55,60,65,70,75,80,85,90,95,100,105,110,115],"labelExpr":"datum.value%20==0?datum.label:''"}}},
 "layer":[
  {"data":{"name":"h"},"transform":[{"filter":"datum.p=='P3'"}],"layer":[{"mark":{"type":"area","color":"#ff0000"}},{"mark":{"type":"line","color":"#000000","strokeWidth":1.2}}]},
  {"data":{"name":"g"},"transform":[{"filter":"datum.p=='P3'"}],"layer":[
   {"mark":{"type":"rule","color":"#333333","strokeWidth":1.2},"encoding":{"x2":{"datum":1000}}},
   {"mark":{"type":"point","shape":"M0,-5V2","size":4,"filled":false,"stroke":"#333333","strokeWidth":1.2,"opacity":1}},
   {"mark":{"type":"point","size":4,"filled":true,"fill":"#ffffff","fillOpacity":0.55,"stroke":"#888888","strokeWidth":1,"opacity":1},"encoding":{"shape":{"condition":[{"test":"length(datum.lab)>=10","value":"M0,3H73V19H0Z"},{"test":"length(datum.lab)==9","value":"M0,3H63V19H0Z"}],"value":"M0,3H55V19H0Z"}}},
   {"mark":{"type":"text","align":"left","baseline":"middle","dx":4,"dy":11,"fontSize":11.3,"font":"DejaVu Sans","color":"#222222"},"encoding":{"text":{"field":"lab"}}}]}
 ]},
{"width":330,"height":210,"title":{"text":["Data Set 2: CD80 B1 IZOTIP US 2018-06-04","[Y] G1 APC"]},
 "encoding":{"x":{"field":"x","type":"quantitative","title":"G1 APC","scale":{"type":"log","domain":[0.1,1000]},"axis":{"values":[0.2,0.3,0.4,0.5,0.6,0.7,0.8,0.9,1,2,3,4,5,6,7,8,9,10,20,30,40,50,60,70,80,90,100,200,300,400,500,600,700,800,900,1000],"labelExpr":"datum.value==1?'10⁰':datum.value==10?'10¹':datum.value==100?'10²':datum.value==1000?'10³':''"}},
  "y":{"field":"y","type":"quantitative","stack":null,"title":"Count","scale":{"domain":[0,168],"nice":false},"axis":{"values":[0,10,20,30,40,50,60,70,80,90,100,110,120,130,140,150,160],"labelExpr":"datum.value%50==0?datum.label:''"}}},
 "layer":[
  {"data":{"name":"h"},"transform":[{"filter":"datum.p=='P5'"}],"layer":[{"mark":{"type":"area","color":"#ff0000"}},{"mark":{"type":"line","color":"#000000","strokeWidth":1.2}}]},
  {"data":{"name":"g"},"transform":[{"filter":"datum.p=='P5'"}],"layer":[
   {"mark":{"type":"rule","color":"#333333","strokeWidth":1.2},"encoding":{"x2":{"datum":1000}}},
   {"mark":{"type":"point","shape":"M0,-5V2","size":4,"filled":false,"stroke":"#333333","strokeWidth":1.2,"opacity":1}},
   {"mark":{"type":"point","size":4,"filled":true,"fill":"#ffffff","fillOpacity":0.55,"stroke":"#888888","strokeWidth":1,"opacity":1},"encoding":{"shape":{"condition":[{"test":"length(datum.lab)>=10","value":"M0,3H73V19H0Z"},{"test":"length(datum.lab)==9","value":"M0,3H63V19H0Z"}],"value":"M0,3H55V19H0Z"}}},
   {"mark":{"type":"text","align":"left","baseline":"middle","dx":4,"dy":11,"fontSize":11.3,"font":"DejaVu Sans","color":"#222222"},"encoding":{"text":{"field":"lab"}}}]}
 ]},
{"width":330,"height":192,"title":{"text":["Data Set 2: RAW WT IZOTIP STI 2018-06-04 001","[Y] G1 APC"]},
 "encoding":{"x":{"field":"x","type":"quantitative","title":"G1 APC","scale":{"type":"log","domain":[0.1,1000]},"axis":{"values":[0.2,0.3,0.4,0.5,0.6,0.7,0.8,0.9,1,2,3,4,5,6,7,8,9,10,20,30,40,50,60,70,80,90,100,200,300,400,500,600,700,800,900,1000],"labelExpr":"datum.value==1?'10⁰':datum.value==10?'10¹':datum.value==100?'10²':datum.value==1000?'10³':''"}},
  "y":{"field":"y","type":"quantitative","stack":null,"title":"Count","scale":{"domain":[0,81],"nice":false},"axis":{"values":[0,5,10,15,20,25,30,35,40,45,50,55,60,65,70,75,80],"labelExpr":"datum.value%20==0?datum.label:''"}}},
 "layer":[
  {"data":{"name":"h"},"transform":[{"filter":"datum.p=='P7'"}],"layer":[{"mark":{"type":"area","color":"#ff0000"}},{"mark":{"type":"line","color":"#000000","strokeWidth":1.2}}]},
  {"data":{"name":"g"},"transform":[{"filter":"datum.p=='P7'"}],"layer":[
   {"mark":{"type":"rule","color":"#333333","strokeWidth":1.2},"encoding":{"x2":{"datum":1000}}},
   {"mark":{"type":"point","shape":"M0,-5V2","size":4,"filled":false,"stroke":"#333333","strokeWidth":1.2,"opacity":1}},
   {"mark":{"type":"point","size":4,"filled":true,"fill":"#ffffff","fillOpacity":0.55,"stroke":"#888888","strokeWidth":1,"opacity":1},"encoding":{"shape":{"condition":[{"test":"length(datum.lab)>=10","value":"M0,3H73V19H0Z"},{"test":"length(datum.lab)==9","value":"M0,3H63V19H0Z"}],"value":"M0,3H55V19H0Z"}}},
   {"mark":{"type":"text","align":"left","baseline":"middle","dx":4,"dy":11,"fontSize":11.3,"font":"DejaVu Sans","color":"#222222"},"encoding":{"text":{"field":"lab"}}}]}
 ]},
{"width":330,"height":198,"title":{"text":["Data Set 2: CD80 A2 IZOTIP STI 2018-06-04","[Y] G1 APC"]},
 "encoding":{"x":{"field":"x","type":"quantitative","title":"G1 APC","scale":{"type":"log","domain":[0.1,1000]},"axis":{"values":[0.2,0.3,0.4,0.5,0.6,0.7,0.8,0.9,1,2,3,4,5,6,7,8,9,10,20,30,40,50,60,70,80,90,100,200,300,400,500,600,700,800,900,1000],"labelExpr":"datum.value==1?'10⁰':datum.value==10?'10¹':datum.value==100?'10²':datum.value==1000?'10³':''"}},
  "y":{"field":"y","type":"quantitative","stack":null,"title":"Count","scale":{"domain":[0,33],"nice":false},"axis":{"values":[0,2,4,6,8,10,12,14,16,18,20,22,24,26,28,30,32],"labelExpr":"datum.value%10==0?datum.label:''"}}},
 "layer":[
  {"data":{"name":"h"},"transform":[{"filter":"datum.p=='P9'"}],"layer":[{"mark":{"type":"area","color":"#ff0000"}},{"mark":{"type":"line","color":"#000000","strokeWidth":1.2}}]},
  {"data":{"name":"g"},"transform":[{"filter":"datum.p=='P9'"}],"layer":[
   {"mark":{"type":"rule","color":"#333333","strokeWidth":1.2},"encoding":{"x2":{"datum":1000}}},
   {"mark":{"type":"point","shape":"M0,-5V2","size":4,"filled":false,"stroke":"#333333","strokeWidth":1.2,"opacity":1}},
   {"mark":{"type":"point","size":4,"filled":true,"fill":"#ffffff","fillOpacity":0.55,"stroke":"#888888","strokeWidth":1,"opacity":1},"encoding":{"shape":{"condition":[{"test":"length(datum.lab)>=10","value":"M0,3H73V19H0Z"},{"test":"length(datum.lab)==9","value":"M0,3H63V19H0Z"}],"value":"M0,3H55V19H0Z"}}},
   {"mark":{"type":"text","align":"left","baseline":"middle","dx":4,"dy":11,"fontSize":11.3,"font":"DejaVu Sans","color":"#222222"},"encoding":{"text":{"field":"lab"}}}]}
 ]},
{"width":330,"height":205,"title":{"text":["Data Set 2: CD80 B1 IZOTIP STI 2018-06-04","[Y] G1 APC"]},
 "encoding":{"x":{"field":"x","type":"quantitative","title":"G1 APC","scale":{"type":"log","domain":[0.1,1000]},"axis":{"values":[0.2,0.3,0.4,0.5,0.6,0.7,0.8,0.9,1,2,3,4,5,6,7,8,9,10,20,30,40,50,60,70,80,90,100,200,300,400,500,600,700,800,900,1000],"labelExpr":"datum.value==1?'10⁰':datum.value==10?'10¹':datum.value==100?'10²':datum.value==1000?'10³':''"}},
  "y":{"field":"y","type":"quantitative","stack":null,"title":"Count","scale":{"domain":[0,22.5],"nice":false},"axis":{"values":[0,1,2,3,4,5,6,7,8,9,10,11,12,13,14,15,16,17,18,19,20,21,22],"labelExpr":"datum.value%5==0?datum.label:''"}}},
 "layer":[
  {"data":{"name":"h"},"transform":[{"filter":"datum.p=='P11'"}],"layer":[{"mark":{"type":"area","color":"#ff0000"}},{"mark":{"type":"line","color":"#000000","strokeWidth":1.2}}]},
  {"data":{"name":"g"},"transform":[{"filter":"datum.p=='P11'"}],"layer":[
   {"mark":{"type":"rule","color":"#333333","strokeWidth":1.2},"encoding":{"x2":{"datum":1000}}},
   {"mark":{"type":"point","shape":"M0,-5V2","size":4,"filled":false,"stroke":"#333333","strokeWidth":1.2,"opacity":1}},
   {"mark":{"type":"point","size":4,"filled":true,"fill":"#ffffff","fillOpacity":0.55,"stroke":"#888888","strokeWidth":1,"opacity":1},"encoding":{"shape":{"condition":[{"test":"length(datum.lab)>=10","value":"M0,3H73V19H0Z"},{"test":"length(datum.lab)==9","value":"M0,3H63V19H0Z"}],"value":"M0,3H55V19H0Z"}}},
   {"mark":{"type":"text","align":"left","baseline":"middle","dx":4,"dy":11,"fontSize":11.3,"font":"DejaVu Sans","color":"#222222"},"encoding":{"text":{"field":"lab"}}}]}
 ]}
], "spacing": 3},
{"vconcat": [
{"width":335,"height":200,"title":{"text":["Data Set 1: RAW WT CD80-86 US 2018-06-04 001","[Y] CD80 APC"]},
 "encoding":{"x":{"field":"x","type":"quantitative","title":"CD80 APC","scale":{"type":"log","domain":[0.1,1000]},"axis":{"values":[0.2,0.3,0.4,0.5,0.6,0.7,0.8,0.9,1,2,3,4,5,6,7,8,9,10,20,30,40,50,60,70,80,90,100,200,300,400,500,600,700,800,900,1000],"labelExpr":"datum.value==1?'10⁰':datum.value==10?'10¹':datum.value==100?'10²':datum.value==1000?'10³':''"}},
  "y":{"field":"y","type":"quantitative","stack":null,"title":"Count","scale":{"domain":[0,69],"nice":false},"axis":{"values":[0,5,10,15,20,25,30,35,40,45,50,55,60,65],"labelExpr":"datum.value%20==0?datum.label:''"}}},
 "layer":[
  {"data":{"name":"h"},"transform":[{"filter":"datum.p=='P2'"}],"layer":[{"mark":{"type":"area","color":"#ff0000"}},{"mark":{"type":"line","color":"#000000","strokeWidth":1.2}}]},
  {"data":{"name":"g"},"transform":[{"filter":"datum.p=='P2'"}],"layer":[
   {"mark":{"type":"rule","color":"#333333","strokeWidth":1.2},"encoding":{"x2":{"datum":1000}}},
   {"mark":{"type":"point","shape":"M0,-5V2","size":4,"filled":false,"stroke":"#333333","strokeWidth":1.2,"opacity":1}},
   {"mark":{"type":"point","size":4,"filled":true,"fill":"#ffffff","fillOpacity":0.55,"stroke":"#888888","strokeWidth":1,"opacity":1},"encoding":{"shape":{"condition":[{"test":"length(datum.lab)>=10","value":"M0,3H73V19H0Z"},{"test":"length(datum.lab)==9","value":"M0,3H63V19H0Z"}],"value":"M0,3H55V19H0Z"}}},
   {"mark":{"type":"text","align":"left","baseline":"middle","dx":4,"dy":11,"fontSize":11.3,"font":"DejaVu Sans","color":"#222222"},"encoding":{"text":{"field":"lab"}}}]}
 ]},
{"width":335,"height":204,"title":{"text":["Data Set 1: CD80 A2 CD80-86 US 2018-06-04","[Y] CD80 APC"]},
 "encoding":{"x":{"field":"x","type":"quantitative","title":"CD80 APC","scale":{"type":"log","domain":[0.1,1000]},"axis":{"values":[0.2,0.3,0.4,0.5,0.6,0.7,0.8,0.9,1,2,3,4,5,6,7,8,9,10,20,30,40,50,60,70,80,90,100,200,300,400,500,600,700,800,900,1000],"labelExpr":"datum.value==1?'10⁰':datum.value==10?'10¹':datum.value==100?'10²':datum.value==1000?'10³':''"}},
  "y":{"field":"y","type":"quantitative","stack":null,"title":"Count","scale":{"domain":[0,77],"nice":false},"axis":{"values":[0,5,10,15,20,25,30,35,40,45,50,55,60,65,70,75],"labelExpr":"datum.value%20==0?datum.label:''"}}},
 "layer":[
  {"data":{"name":"h"},"transform":[{"filter":"datum.p=='P4'"}],"layer":[{"mark":{"type":"area","color":"#ff0000"}},{"mark":{"type":"line","color":"#000000","strokeWidth":1.2}}]},
  {"data":{"name":"g"},"transform":[{"filter":"datum.p=='P4'"}],"layer":[
   {"mark":{"type":"rule","color":"#333333","strokeWidth":1.2},"encoding":{"x2":{"datum":1000}}},
   {"mark":{"type":"point","shape":"M0,-5V2","size":4,"filled":false,"stroke":"#333333","strokeWidth":1.2,"opacity":1}},
   {"mark":{"type":"point","size":4,"filled":true,"fill":"#ffffff","fillOpacity":0.55,"stroke":"#888888","strokeWidth":1,"opacity":1},"encoding":{"shape":{"condition":[{"test":"length(datum.lab)>=10","value":"M0,3H73V19H0Z"},{"test":"length(datum.lab)==9","value":"M0,3H63V19H0Z"}],"value":"M0,3H55V19H0Z"}}},
   {"mark":{"type":"text","align":"left","baseline":"middle","dx":4,"dy":11,"fontSize":11.3,"font":"DejaVu Sans","color":"#222222"},"encoding":{"text":{"field":"lab"}}}]}
 ]},
{"width":335,"height":210,"title":{"text":["Data Set 1: CD80 B1 CD80-86 US 2018-06-04","[Y] CD80 APC"]},
 "encoding":{"x":{"field":"x","type":"quantitative","title":"CD80 APC","scale":{"type":"log","domain":[0.1,1000]},"axis":{"values":[0.2,0.3,0.4,0.5,0.6,0.7,0.8,0.9,1,2,3,4,5,6,7,8,9,10,20,30,40,50,60,70,80,90,100,200,300,400,500,600,700,800,900,1000],"labelExpr":"datum.value==1?'10⁰':datum.value==10?'10¹':datum.value==100?'10²':datum.value==1000?'10³':''"}},
  "y":{"field":"y","type":"quantitative","stack":null,"title":"Count","scale":{"domain":[0,140],"nice":false},"axis":{"values":[0,10,20,30,40,50,60,70,80,90,100,110,120,130,140],"labelExpr":"datum.value%50==0?datum.label:''"}}},
 "layer":[
  {"data":{"name":"h"},"transform":[{"filter":"datum.p=='P6'"}],"layer":[{"mark":{"type":"area","color":"#ff0000"}},{"mark":{"type":"line","color":"#000000","strokeWidth":1.2}}]},
  {"data":{"name":"g"},"transform":[{"filter":"datum.p=='P6'"}],"layer":[
   {"mark":{"type":"rule","color":"#333333","strokeWidth":1.2},"encoding":{"x2":{"datum":1000}}},
   {"mark":{"type":"point","shape":"M0,-5V2","size":4,"filled":false,"stroke":"#333333","strokeWidth":1.2,"opacity":1}},
   {"mark":{"type":"point","size":4,"filled":true,"fill":"#ffffff","fillOpacity":0.55,"stroke":"#888888","strokeWidth":1,"opacity":1},"encoding":{"shape":{"condition":[{"test":"length(datum.lab)>=10","value":"M0,3H73V19H0Z"},{"test":"length(datum.lab)==9","value":"M0,3H63V19H0Z"}],"value":"M0,3H55V19H0Z"}}},
   {"mark":{"type":"text","align":"left","baseline":"middle","dx":4,"dy":11,"fontSize":11.3,"font":"DejaVu Sans","color":"#222222"},"encoding":{"text":{"field":"lab"}}}]}
 ]},
{"width":335,"height":192,"title":{"text":["Data Set 1: RAW WT CD80-86 STI 2018-06-04 001","[Y] CD80 APC"]},
 "encoding":{"x":{"field":"x","type":"quantitative","title":"CD80 APC","scale":{"type":"log","domain":[0.1,1000]},"axis":{"values":[0.2,0.3,0.4,0.5,0.6,0.7,0.8,0.9,1,2,3,4,5,6,7,8,9,10,20,30,40,50,60,70,80,90,100,200,300,400,500,600,700,800,900,1000],"labelExpr":"datum.value==1?'10⁰':datum.value==10?'10¹':datum.value==100?'10²':datum.value==1000?'10³':''"}},
  "y":{"field":"y","type":"quantitative","stack":null,"title":"Count","scale":{"domain":[0,27.3],"nice":false},"axis":{"values":[0,1,2,3,4,5,6,7,8,9,10,11,12,13,14,15,16,17,18,19,20,21,22,23,24,25,26,27],"labelExpr":"datum.value%5==0?datum.label:''"}}},
 "layer":[
  {"data":{"name":"h"},"transform":[{"filter":"datum.p=='P8'"}],"layer":[{"mark":{"type":"area","color":"#ff0000"}},{"mark":{"type":"line","color":"#000000","strokeWidth":1.2}}]},
  {"data":{"name":"g"},"transform":[{"filter":"datum.p=='P8'"}],"layer":[
   {"mark":{"type":"rule","color":"#333333","strokeWidth":1.2},"encoding":{"x2":{"datum":1000}}},
   {"mark":{"type":"point","shape":"M0,-5V2","size":4,"filled":false,"stroke":"#333333","strokeWidth":1.2,"opacity":1}},
   {"mark":{"type":"point","size":4,"filled":true,"fill":"#ffffff","fillOpacity":0.55,"stroke":"#888888","strokeWidth":1,"opacity":1},"encoding":{"shape":{"condition":[{"test":"length(datum.lab)>=10","value":"M0,3H73V19H0Z"},{"test":"length(datum.lab)==9","value":"M0,3H63V19H0Z"}],"value":"M0,3H55V19H0Z"}}},
   {"mark":{"type":"text","align":"left","baseline":"middle","dx":4,"dy":11,"fontSize":11.3,"font":"DejaVu Sans","color":"#222222"},"encoding":{"text":{"field":"lab"}}}]}
 ]},
{"width":335,"height":198,"title":{"text":["Data Set 1: CD80 A2 CD80-86 STI 2018-06-04","[Y] CD80 APC"]},
 "encoding":{"x":{"field":"x","type":"quantitative","title":"CD80 APC","scale":{"type":"log","domain":[0.1,1000]},"axis":{"values":[0.2,0.3,0.4,0.5,0.6,0.7,0.8,0.9,1,2,3,4,5,6,7,8,9,10,20,30,40,50,60,70,80,90,100,200,300,400,500,600,700,800,900,1000],"labelExpr":"datum.value==1?'10⁰':datum.value==10?'10¹':datum.value==100?'10²':datum.value==1000?'10³':''"}},
  "y":{"field":"y","type":"quantitative","stack":null,"title":"Count","scale":{"domain":[0,23.5],"nice":false},"axis":{"values":[0,1,2,3,4,5,6,7,8,9,10,11,12,13,14,15,16,17,18,19,20,21,22,23],"labelExpr":"datum.value%5==0?datum.label:''"}}},
 "layer":[
  {"data":{"name":"h"},"transform":[{"filter":"datum.p=='P10'"}],"layer":[{"mark":{"type":"area","color":"#ff0000"}},{"mark":{"type":"line","color":"#000000","strokeWidth":1.2}}]},
  {"data":{"name":"g"},"transform":[{"filter":"datum.p=='P10'"}],"layer":[
   {"mark":{"type":"rule","color":"#333333","strokeWidth":1.2},"encoding":{"x2":{"datum":1000}}},
   {"mark":{"type":"point","shape":"M0,-5V2","size":4,"filled":false,"stroke":"#333333","strokeWidth":1.2,"opacity":1}},
   {"mark":{"type":"point","size":4,"filled":true,"fill":"#ffffff","fillOpacity":0.55,"stroke":"#888888","strokeWidth":1,"opacity":1},"encoding":{"shape":{"condition":[{"test":"length(datum.lab)>=10","value":"M0,3H73V19H0Z"},{"test":"length(datum.lab)==9","value":"M0,3H63V19H0Z"}],"value":"M0,3H55V19H0Z"}}},
   {"mark":{"type":"text","align":"left","baseline":"middle","dx":4,"dy":11,"fontSize":11.3,"font":"DejaVu Sans","color":"#222222"},"encoding":{"text":{"field":"lab"}}}]}
 ]},
{"width":335,"height":205,"title":{"text":["Data Set 1: CD80 B1 CD80-86 STI 2018-06-04","[Y] CD80 APC"]},
 "encoding":{"x":{"field":"x","type":"quantitative","title":"CD80 APC","scale":{"type":"log","domain":[0.1,1000]},"axis":{"values":[0.2,0.3,0.4,0.5,0.6,0.7,0.8,0.9,1,2,3,4,5,6,7,8,9,10,20,30,40,50,60,70,80,90,100,200,300,400,500,600,700,800,900,1000],"labelExpr":"datum.value==1?'10⁰':datum.value==10?'10¹':datum.value==100?'10²':datum.value==1000?'10³':''"}},
  "y":{"field":"y","type":"quantitative","stack":null,"title":"Count","scale":{"domain":[0,15],"nice":false},"axis":{"values":[0,1,2,3,4,5,6,7,8,9,10,11,12,13,14,15],"labelExpr":"datum.value%5==0?datum.label:''"}}},
 "layer":[
  {"data":{"name":"h"},"transform":[{"filter":"datum.p=='P12'"}],"layer":[{"mark":{"type":"area","color":"#ff0000"}},{"mark":{"type":"line","color":"#000000","strokeWidth":1.2}}]},
  {"data":{"name":"g"},"transform":[{"filter":"datum.p=='P12'"}],"layer":[
   {"mark":{"type":"rule","color":"#333333","strokeWidth":1.2},"encoding":{"x2":{"datum":1000}}},
   {"mark":{"type":"point","shape":"M0,-5V2","size":4,"filled":false,"stroke":"#333333","strokeWidth":1.2,"opacity":1}},
   {"mark":{"type":"point","size":4,"filled":true,"fill":"#ffffff","fillOpacity":0.55,"stroke":"#888888","strokeWidth":1,"opacity":1},"encoding":{"shape":{"condition":[{"test":"length(datum.lab)>=10","value":"M0,3H73V19H0Z"},{"test":"length(datum.lab)==9","value":"M0,3H63V19H0Z"}],"value":"M0,3H55V19H0Z"}}},
   {"mark":{"type":"text","align":"left","baseline":"middle","dx":4,"dy":11,"fontSize":11.3,"font":"DejaVu Sans","color":"#222222"},"encoding":{"text":{"field":"lab"}}}]}
 ]}
], "spacing": 3}
], "spacing": 19},
{"width": 275, "height": 1580, "view": {"stroke": null},
 "layer": [
  {"data": {"name": "br"}, "mark": {"type": "line", "color": "#444444", "strokeWidth": 1.4},
   "encoding": {"x": {"field": "x", "type": "quantitative", "scale": {"domain": [0, 1], "nice": false, "zero": false}, "axis": null},
                "y": {"field": "y", "type": "quantitative", "scale": {"domain": [0, 6], "reverse": true, "nice": false, "zero": false}, "axis": null},
                "detail": {"field": "s"}, "order": {"field": "o"}}},
  {"data": {"name": "bx"}, "mark": {"type": "rect", "fill": "#ffffff", "stroke": "#000000", "strokeWidth": 2.5},
   "encoding": {"x": {"field": "x", "type": "quantitative"}, "x2": {"field": "x2"}, "y": {"field": "y", "type": "quantitative"}, "y2": {"field": "y2"}}},
  {"data": {"name": "tx"}, "mark": {"type": "text", "font": "Liberation Serif", "fontSize": 19, "color": "#000000"},
   "encoding": {"x": {"field": "x", "type": "quantitative"}, "y": {"field": "y", "type": "quantitative"}, "text": {"field": "t"}}}
 ]}
], "spacing": 0
}
